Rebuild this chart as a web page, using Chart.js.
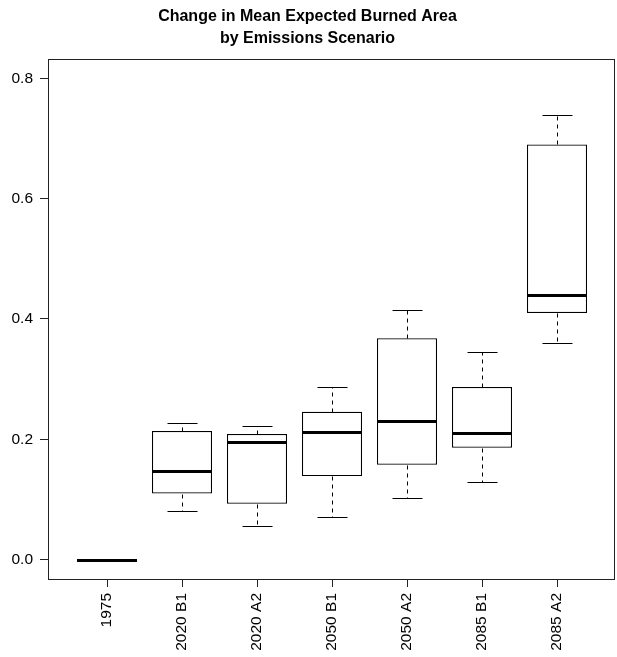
<!DOCTYPE html>
<html>
<head>
<meta charset="utf-8">
<title>Change in Mean Expected Burned Area</title>
<script src="https://cdn.jsdelivr.net/npm/chart.js@4.4.1/dist/chart.umd.min.js"></script>
<style>
  html, body { margin: 0; padding: 0; background: #fff; }
  #wrap { width: 617px; height: 657px; }
</style>
</head>
<body>
<div id="wrap"><canvas id="chart" width="617" height="657"></canvas></div>
<script>
// --- DATA ---
const scenarios = ['1975', '2020 B1', '2020 A2', '2050 B1', '2050 A2', '2085 B1', '2085 A2'];
const whiskerLow = [0, 0.081, 0.056, 0.071, 0.103, 0.129, 0.360];
const boxLow = [0, 0.110, 0.093, 0.139, 0.158, 0.186, 0.410];
const medians = [0, 0.148, 0.196, 0.212, 0.231, 0.211, 0.440];
const boxHigh = [0, 0.214, 0.209, 0.246, 0.368, 0.287, 0.690];
const whiskerHigh = [0, 0.227, 0.222, 0.287, 0.415, 0.345, 0.739];
const yTicks = [0, 0.2, 0.4, 0.6, 0.8];

const FONT = 'Liberation Sans, Arial, Helvetica, sans-serif';
const INK = '#000';

// --- WHISKERS, CAPS AND MEDIANS on top of the floating bars ---
const boxExtras = {
    id: 'boxExtras',
    afterDatasetsDraw(chart) {
        const { ctx } = chart;
        const y = chart.scales.y;
        const meta = chart.getDatasetMeta(0);
        const py = v => Math.round(y.getPixelForValue(v)) + 0.5;

        ctx.save();
        ctx.strokeStyle = INK;
        meta.data.forEach((bar, i) => {
            const cx = Math.round(bar.x) + 0.5;
            const half = bar.width / 2;
            const cap = bar.width / 4;

            ctx.lineWidth = 1;
            ctx.setLineDash([4, 4]);
            ctx.beginPath();
            ctx.moveTo(cx, py(boxHigh[i]));
            ctx.lineTo(cx, py(whiskerHigh[i]));
            ctx.moveTo(cx, py(boxLow[i]));
            ctx.lineTo(cx, py(whiskerLow[i]));
            ctx.stroke();

            ctx.setLineDash([]);
            ctx.beginPath();
            ctx.moveTo(cx - cap, py(whiskerHigh[i]));
            ctx.lineTo(cx + cap, py(whiskerHigh[i]));
            ctx.moveTo(cx - cap, py(whiskerLow[i]));
            ctx.lineTo(cx + cap, py(whiskerLow[i]));
            ctx.stroke();

            ctx.lineWidth = 3;
            const ym = Math.round(y.getPixelForValue(medians[i])) + 0.5;
            ctx.beginPath();
            ctx.moveTo(Math.round(bar.x - half), ym);
            ctx.lineTo(Math.round(bar.x + half), ym);
            ctx.stroke();
        });
        ctx.restore();
    },
    afterDraw(chart) {
        const { ctx, chartArea: a } = chart;
        ctx.save();
        ctx.strokeStyle = '#222';
        ctx.lineWidth = 1;
        ctx.strokeRect(Math.round(a.left) + 0.5, Math.round(a.top) + 0.5,
            Math.round(a.right - a.left) - 1, Math.round(a.bottom - a.top));
        ctx.restore();
    }
};

const tickFont = { family: FONT, size: 15.5 };

new Chart(document.getElementById('chart').getContext('2d'), {
    type: 'bar',
    data: {
        datasets: [{
            data: scenarios.map((s, i) => ({ x: i + 1, y: [boxLow[i], boxHigh[i]] })),
            backgroundColor: '#fff',
            borderColor: INK,
            borderWidth: 1.2,
            borderSkipped: false,
            categoryPercentage: 0.8,
            barPercentage: 1.0
        }]
    },
    options: {
        responsive: false,
        animation: false,
        layout: { padding: { left: 0, right: 2, top: 0, bottom: 0 } },
        plugins: {
            legend: { display: false },
            tooltip: { enabled: false },
            title: {
                display: true,
                text: ['Change in Mean Expected Burned Area', 'by Emissions Scenario'],
                color: INK,
                font: { family: FONT, size: 16, weight: 'bold', lineHeight: 1.35 },
                padding: { top: 6, bottom: 9.8 }
            }
        },
        scales: {
            x: {
                type: 'linear',
                offset: false,
                min: 0.2133,
                max: 7.7733,
                afterBuildTicks: s => { s.ticks = scenarios.map((_, i) => ({ value: i + 1 })); },
                afterFit: s => { s.height = 78; },
                ticks: {
                    autoSkip: false,
                    minRotation: 90,
                    maxRotation: 90,
                    padding: 6,
                    color: INK,
                    font: tickFont,
                    callback: v => scenarios[Math.round(v) - 1]
                },
                grid: { offset: false, drawOnChartArea: false, tickLength: 8, tickColor: '#222' },
                border: { display: false }
            },
            y: {
                min: -0.032,
                max: 0.832,
                afterBuildTicks: s => { s.ticks = yTicks.map(v => ({ value: v })); },
                afterFit: s => { s.width = 48; },
                ticks: {
                    padding: 7,
                    color: INK,
                    font: tickFont,
                    callback: v => v.toFixed(1)
                },
                grid: { drawOnChartArea: false, tickLength: 8, tickColor: '#222' },
                border: { display: false }
            }
        }
    },
    plugins: [boxExtras]
});
</script>
</body>
</html>
